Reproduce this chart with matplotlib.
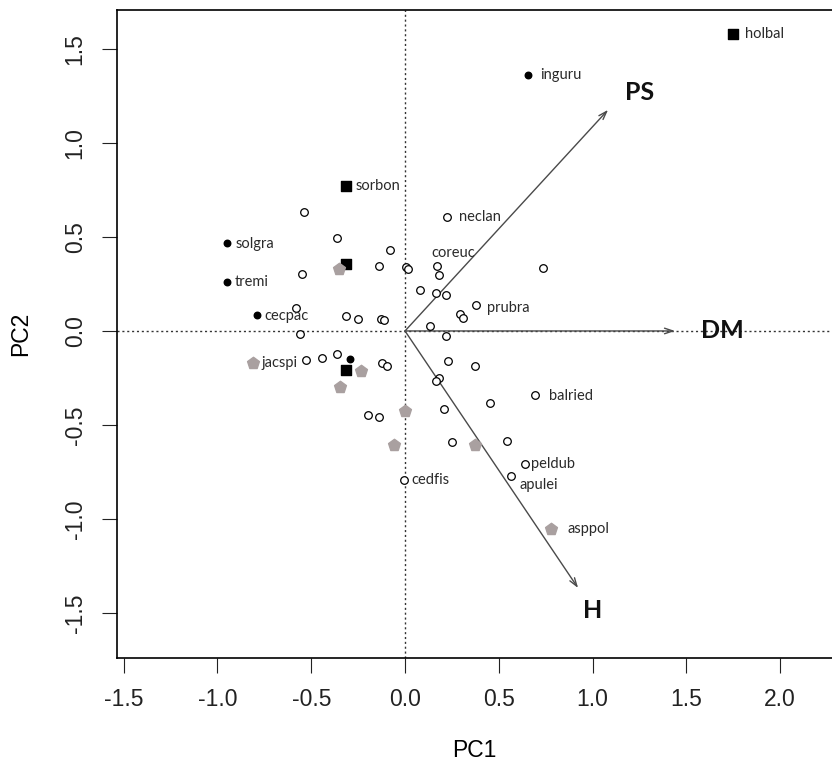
import matplotlib.pyplot as plt
import numpy as np

# species scores (PC1, PC2)
open_x = [-0.54, -0.361, -0.082, -0.139, 0.007, 0.018, 0.169, 0.18, -0.551, 0.078,
          0.164, 0.217, -0.583, -0.316, -0.252, -0.128, -0.11, 0.132, -0.562, 0.217,
          -0.53, -0.443, -0.361, -0.124, -0.098, 0.231, 0.18, 0.167, -0.196, -0.139,
          0.208, 0.222, 0.734, 0.379, 0.293, 0.308, 0.373, 0.693, 0.452, 0.249,
          0.544, 0.64, 0.565, -0.005]
open_y = [0.63, 0.495, 0.431, 0.346, 0.34, 0.331, 0.346, 0.298, 0.303, 0.218,
          0.202, 0.191, 0.122, 0.08, 0.064, 0.066, 0.059, 0.027, -0.016, -0.027,
          -0.156, -0.145, -0.122, -0.168, -0.184, -0.16, -0.248, -0.266, -0.449, -0.456,
          -0.417, 0.608, 0.335, 0.137, 0.089, 0.069, -0.186, -0.342, -0.385, -0.589,
          -0.584, -0.709, -0.77, -0.794]

dot_x = [-0.948, -0.951, -0.791, -0.293, 0.656]
dot_y = [0.466, 0.262, 0.083, -0.149, 1.362]

square_x = [-0.316, -0.316, -0.316, 1.749]
square_y = [0.771, 0.355, -0.206, 1.58]

pent_x = [-0.35, -0.809, -0.233, -0.347, -0.002, -0.057, 0.373, 0.777]
pent_y = [0.328, -0.17, -0.211, -0.296, -0.427, -0.606, -0.606, -1.055]

# species names and where their text starts
names = ["sorbon", "neclan", "coreuc", "prubra", "balried", "solgra", "tremi", "cecpac",
         "jacspi", "cedfis", "peldub", "apulei", "asppol", "inguru", "holbal"]
name_x = [-0.261, 0.288, 0.139, 0.437, 0.768, -0.901, -0.907, -0.752,
          -0.763, 0.032, 0.672, 0.608, 0.864, 0.72, 1.813]
name_y = [0.771, 0.606, 0.415, 0.122, -0.346, 0.463, 0.261, 0.080,
          -0.170, -0.793, -0.707, -0.819, -1.053, 1.362, 1.580]

# trait vectors
traits = ["PS", "DM", "H"]
arrow_x = [1.083, 1.44, 0.923]
arrow_y = [1.176, 0.0, -1.367]
trait_x = [1.253, 1.69, 1.003]
trait_y = [1.266, 0.0, -1.484]

fig = plt.figure(figsize=(8.32, 7.66), dpi=100)
ax = fig.add_axes([0.1406, 0.141, 0.8594, 0.846])

ax.axhline(0, color="#333333", lw=1, ls=(0, (1.5, 2)), zorder=1)
ax.axvline(0, color="#333333", lw=1, ls=(0, (1.5, 2)), zorder=1)

for i in range(len(traits)):
    ax.annotate("", xy=(arrow_x[i], arrow_y[i]), xytext=(0, 0),
                arrowprops=dict(arrowstyle="->,head_length=0.6,head_width=0.2",
                                color="#4a4a4a", lw=1, shrinkA=0, shrinkB=0), zorder=2)
    ax.text(trait_x[i], trait_y[i], traits[i], fontsize=18, fontweight="bold",
            family="Lato", ha="center", va="center", color="#111111")

ax.scatter(open_x, open_y, s=30, facecolors="white", edgecolors="black", linewidths=0.9, zorder=3)
ax.scatter(dot_x, dot_y, s=22, color="black", zorder=3)
ax.scatter(square_x, square_y, s=60, marker="s", color="black", zorder=3)
ax.scatter(pent_x, pent_y, s=80, marker="p", color="#a9a0a0", zorder=3)

for i in range(len(names)):
    ax.text(name_x[i], name_y[i], names[i], fontsize=10.5, family="Lato",
            ha="left", va="center", color="#2a2a2a")

ax.set_xlim(-1.536, 2.277)
ax.set_ylim(-1.739, 1.707)
ax.set_xticks(np.arange(-1.5, 2.1, 0.5))
ax.set_yticks(np.arange(-1.5, 1.6, 0.5))
ax.set_xticklabels([f"{v:.1f}" for v in np.arange(-1.5, 2.1, 0.5)])
ax.set_yticklabels([f"{v:.1f}" for v in np.arange(-1.5, 1.6, 0.5)], rotation=90, va="center")
ax.tick_params(direction="out", length=10.8, width=0.8, labelsize=16.5, pad=11, colors="#222222")
ax.spines["right"].set_visible(False)
for s in ["left", "bottom", "top"]:
    ax.spines[s].set_linewidth(1.2)

for lab in ax.get_xticklabels() + ax.get_yticklabels():
    lab.set_family("Liberation Sans")

ax.set_xlabel("PC1", fontsize=16.5, family="Liberation Sans", labelpad=20)
ax.set_ylabel("PC2", fontsize=16.5, family="Liberation Sans", labelpad=23)

fig.savefig("out.png", dpi=100)
